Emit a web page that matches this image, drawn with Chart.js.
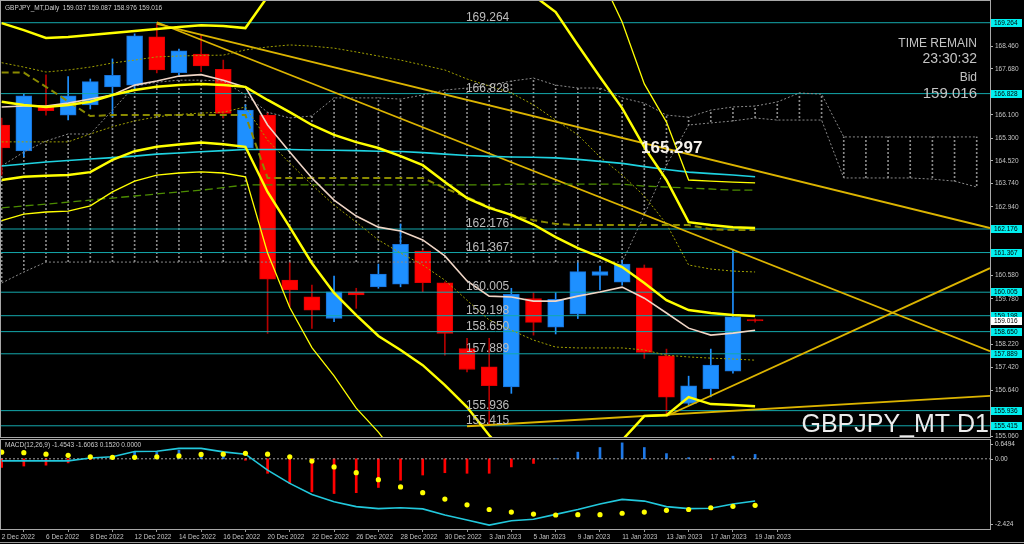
<!DOCTYPE html>
<html>
<head>
<meta charset="UTF-8">
<title>GBPJPY_MT Daily</title>
<script src="https://cdn.jsdelivr.net/npm/chart.js"></script>
<style>
  html, body { margin: 0; padding: 0; background: #000; }
  #wrap { position: relative; width: 1024px; height: 544px; overflow: hidden; background: #000; }
  canvas { position: absolute; left: 0; }
  #mainChart { top: 0; }
  #macdChart { top: 438px; }
</style>
</head>
<body>
<div id="wrap">
  <canvas id="mainChart" width="1024" height="438"></canvas>
  <canvas id="macdChart" width="1024" height="106"></canvas>
</div>
<script>
// ---- data ----
var dates = ['2 Dec 2022','5 Dec 2022','6 Dec 2022','7 Dec 2022','8 Dec 2022','9 Dec 2022',
  '12 Dec 2022','13 Dec 2022','14 Dec 2022','15 Dec 2022','16 Dec 2022','19 Dec 2022',
  '20 Dec 2022','21 Dec 2022','22 Dec 2022','23 Dec 2022','26 Dec 2022','27 Dec 2022',
  '28 Dec 2022','29 Dec 2022','30 Dec 2022','2 Jan 2023','3 Jan 2023','4 Jan 2023',
  '5 Jan 2023','6 Jan 2023','9 Jan 2023','10 Jan 2023','11 Jan 2023','12 Jan 2023',
  '13 Jan 2023','16 Jan 2023','17 Jan 2023','18 Jan 2023','19 Jan 2023'];

var opens  = [165.75,164.86,166.40,166.09,166.44,167.06,167.12,168.78,167.55,168.19,167.66,164.95,166.09,160.42,159.85,159.10,160.02,160.19,160.28,161.42,160.33,158.07,157.44,156.75,159.79,158.80,159.25,160.58,160.35,160.84,157.82,156.18,156.68,157.29,159.037];
var highs  = [165.99,166.81,167.47,167.41,167.33,168.02,168.88,169.24,168.36,168.84,167.98,166.44,166.16,161.03,160.25,160.56,160.14,160.97,162.35,161.45,160.36,158.42,158.42,160.14,159.99,159.99,161.04,160.90,161.11,160.94,158.05,157.12,158.05,161.48,159.087];
var lows   = [164.03,164.66,166.09,165.92,166.30,166.03,166.95,167.54,167.47,167.58,165.99,164.89,158.59,159.50,158.76,158.99,159.45,160.14,160.19,160.02,157.84,157.27,155.44,156.53,158.53,158.57,159.10,160.08,160.25,157.73,155.78,156.13,156.41,157.22,158.976];
var closes = [164.96,166.75,166.24,166.75,167.24,167.46,168.81,167.64,168.30,167.78,166.15,166.26,160.45,160.08,159.39,160.02,159.91,160.63,161.65,160.33,158.59,157.35,156.79,159.93,158.97,159.76,160.71,160.71,160.97,157.94,156.40,156.79,157.50,159.16,159.016];

var levels = [169.264, 166.828, 162.176, 161.367, 160.005, 159.198, 158.650, 157.889, 155.936, 155.415];
var bidPrice = 159.016;
var priceTicks = [168.460, 167.680, 166.100, 165.300, 164.520, 163.740, 162.940, 160.580, 159.780, 158.220, 157.420, 156.640, 155.060];

var bandUpper = [169.25,169.01,168.74,168.77,168.84,168.91,168.98,169.05,169.12,169.18,169.15,169.08,170.16,171.0,171.6,172.0,172.2,172.3,172.2,172.0,171.8,171.5,171.2,170.8,170.2,169.63,168.50,167.40,166.33,164.99,163.86,162.41,162.31,162.24,162.21];
var bandUpperThin = [null,null,null,null,null,null,null,null,null,null,null,null,null,null,null,null,null,null,null,null,null,null,null,null,null,null,172.2,170.9,169.29,167.16,165.85,163.86,163.82,163.79,163.76];
var bandMid = [166.55,166.44,166.37,166.44,166.55,166.78,166.95,167.06,167.12,167.16,167.12,167.06,166.61,166.19,165.75,165.41,165.16,164.96,164.68,164.37,163.79,163.24,162.90,162.66,162.33,161.90,161.52,161.21,160.87,160.32,159.73,159.39,159.29,159.22,159.19];
var bandLower = [163.86,163.97,164.01,164.03,164.13,164.55,164.85,165.00,165.08,165.15,165.09,165.00,163.45,162.24,161.00,159.98,159.22,158.50,158.02,157.50,156.81,156.06,155.09,154.24,153.89,153.89,154.07,154.41,154.92,155.75,155.78,156.40,156.16,156.13,156.09];
var bandLowerThin = [162.46,162.69,162.76,162.79,162.97,163.45,163.82,164.03,164.10,164.14,164.10,163.97,161.35,159.48,158.10,157.13,156.02,155.20,154.2,153.4,152.8,152.3,152.0,151.9,151.9,152.0,152.1,152.3,152.5,152.6,152.7,152.8,152.9,153.0,153.0];
var maCyan = [164.34,164.41,164.48,164.53,164.58,164.63,164.68,164.75,164.79,164.83,164.87,164.91,164.91,164.91,164.89,164.88,164.87,164.85,164.84,164.80,164.75,164.70,164.67,164.65,164.64,164.62,164.57,164.50,164.43,164.32,164.22,164.13,164.08,164.03,163.97];
var maFast = [166.37,166.40,166.40,166.50,166.64,166.78,167.12,167.26,167.43,167.48,167.29,167.05,165.75,164.82,163.93,163.17,162.62,162.24,162.11,161.80,161.25,160.39,159.87,159.84,159.70,159.70,159.87,160.01,160.18,159.80,159.29,158.77,158.53,158.60,158.70];
var kijun = [167.55,167.55,167.06,166.56,166.06,166.09,166.09,166.09,166.09,166.09,166.09,166.09,163.93,163.93,163.93,163.93,163.93,163.93,163.93,163.93,163.58,163.27,162.93,162.66,162.48,162.35,162.31,162.31,162.31,162.31,162.31,162.31,162.17,162.14,162.14];
var maGreen = [162.90,162.97,163.03,163.10,163.17,163.24,163.31,163.38,163.45,163.51,163.60,163.69,163.69,163.69,163.69,163.69,163.69,163.69,163.69,163.69,163.69,163.69,163.69,163.72,163.72,163.72,163.72,163.72,163.72,163.65,163.62,163.58,163.55,163.51,163.51];
var dotUpper = [167.89,167.74,167.57,167.64,167.74,167.88,167.98,168.09,168.12,168.14,168.15,168.33,168.43,168.50,168.46,168.39,168.26,168.12,167.98,167.81,167.64,167.33,167.09,166.85,166.44,165.92,165.41,164.65,164.03,163.31,162.35,160.94,160.80,160.73,160.70];
var dotLower = [165.17,165.17,165.17,165.17,165.44,165.69,165.89,166.03,166.11,166.16,166.19,166.37,165.23,164.44,163.69,163.00,162.41,161.80,161.35,160.94,160.42,159.73,159.05,158.70,158.36,158.12,158.09,158.09,158.09,158.02,157.84,157.78,157.74,157.71,157.67];
var cloudA = [164.34,164.82,165.20,165.44,165.44,166.26,167.09,167.22,167.29,167.29,167.26,166.78,166.19,165.99,166.06,166.68,166.68,166.68,166.64,166.78,166.95,167.02,167.12,167.26,167.36,167.12,167.02,167.02,166.68,166.50,166.09,166.02,166.26,166.37,166.40,166.54,166.85,166.81,165.34,165.34,165.34,165.34,165.34,165.34,165.34];
var cloudB = [160.32,160.70,161.04,161.04,161.04,161.04,161.04,161.04,161.04,161.04,161.04,161.04,161.04,161.04,161.04,161.04,161.04,161.04,161.04,161.04,161.04,161.04,161.04,161.04,161.04,161.04,161.04,161.04,161.04,162.66,164.37,165.75,165.82,165.89,165.99,165.92,165.92,165.92,163.93,163.93,163.93,163.93,163.89,163.82,163.62];

var trendA = [{x: 7, y: 169.22}, {x: 44.6, y: 162.21}];
var trendB = [{x: 7, y: 169.28}, {x: 44.6, y: 157.98}];
var trendC = [{x: 30, y: 155.75}, {x: 44.6, y: 160.83}];
var trendD = [{x: 21, y: 155.40}, {x: 44.6, y: 156.44}];

var macdMain   = [-0.07,-0.07,-0.07,-0.07,0.03,0.07,0.25,0.26,0.36,0.36,0.24,0.16,-0.39,-0.85,-1.23,-1.48,-1.65,-1.72,-1.69,-1.73,-1.94,-2.11,-2.29,-2.14,-2.09,-1.92,-1.75,-1.56,-1.40,-1.46,-1.65,-1.72,-1.71,-1.56,-1.4543];
var macdSignal = [0.23,0.21,0.16,0.12,0.07,0.05,0.05,0.07,0.10,0.15,0.16,0.19,0.16,0.07,-0.08,-0.28,-0.48,-0.72,-0.97,-1.17,-1.39,-1.59,-1.75,-1.84,-1.91,-1.94,-1.93,-1.93,-1.88,-1.84,-1.78,-1.75,-1.69,-1.64,-1.6063];
var macdHist   = [-0.30,-0.25,-0.22,-0.14,-0.03,0.02,0.23,0.22,0.30,0.20,0.10,-0.05,-0.50,-0.85,-1.14,-1.20,-1.17,-0.99,-0.74,-0.56,-0.48,-0.50,-0.50,-0.28,-0.16,0.00,0.23,0.39,0.55,0.39,0.18,0.04,-0.02,0.09,0.1520];
var macdMax = 0.6494, macdMin = -2.424;

var X_MIN = -0.03, X_MAX = 44.6;
var FONT = '"Liberation Sans", Arial, sans-serif';
Chart.defaults.font.family = FONT;

function toPoints(arr) {
  return arr.map(function (v, i) { return {x: i, y: v}; });
}

function lineSet(points, color, width, dash, order) {
  return {
    type: 'line', data: points, borderColor: color, borderWidth: width,
    borderDash: dash || [], pointRadius: 0, fill: false, tension: 0, order: order || 1
  };
}

function dotPattern(color) {
  var c = document.createElement('canvas');
  c.width = 1; c.height = 4;
  var g = c.getContext('2d');
  g.fillStyle = color;
  g.fillRect(0, 0, 1, 2);
  return g.createPattern(c, 'repeat');
}

// keep axis label overflow from shrinking the plot area
function noPad(s) {
  s.paddingTop = 0; s.paddingBottom = 0; s.paddingLeft = 0; s.paddingRight = 0;
}

var upColor = '#1e90ff', downColor = '#ff0000';
var bodyColors = closes.map(function (c, i) { return c >= opens[i] ? upColor : downColor; });
var bodyBorders = closes.map(function (c, i) { return c >= opens[i] ? '#1872d8' : '#e00000'; });
var wickColors = closes.map(function (c, i) { return c >= opens[i] ? upColor : '#b40000'; });

function borderBox(chart) {
  var a = chart.chartArea, ctx = chart.ctx;
  ctx.save();
  ctx.strokeStyle = '#a8a8a8';
  ctx.lineWidth = 1;
  ctx.strokeRect(a.left - 0.5, a.top - 0.5, a.right - a.left + 1, a.bottom - a.top + 1);
  ctx.restore();
}

// ---- main price chart ----
var mainOverlay = {
  id: 'mainOverlay',
  afterDatasetsDraw: function (chart) {
    var ctx = chart.ctx, xs = chart.scales.x, ys = chart.scales.y;
    ctx.save();
    ctx.textAlign = 'left';
    ctx.textBaseline = 'alphabetic';
    ctx.font = '12px ' + FONT;
    ctx.fillStyle = '#bcbcbc';
    var lx = xs.getPixelForValue(20.95);
    levels.forEach(function (v) {
      ctx.fillText(v.toFixed(3), lx, ys.getPixelForValue(v) - 2);
    });

    ctx.font = 'bold 17px ' + FONT;
    ctx.fillStyle = '#f4f0ea';
    ctx.fillText('165.297', xs.getPixelForValue(28.85), ys.getPixelForValue(165.297) + 15);

    ctx.textAlign = 'right';
    ctx.fillStyle = '#c4c4c4';
    ctx.font = '12px ' + FONT;
    ctx.fillText('TIME REMAIN', 977, 47);
    ctx.font = '14px ' + FONT;
    ctx.fillText('23:30:32', 977, 63);
    ctx.font = '12px ' + FONT;
    ctx.fillText('Bid', 977, 81);
    ctx.font = '15px ' + FONT;
    ctx.fillText('159.016', 977, 98);

    ctx.fillStyle = '#ececec';
    ctx.font = '25px ' + FONT;
    ctx.fillText('GBPJPY_MT D1', 989, 432);

    ctx.textAlign = 'left';
    ctx.fillStyle = '#cfcfcf';
    ctx.font = '6.5px ' + FONT;
    ctx.fillText('GBPJPY_MT,Daily  159.037 159.087 158.976 159.016', 5, 10);
    ctx.restore();
  },
  afterDraw: function (chart) {
    var ctx = chart.ctx, ys = chart.scales.y, a = chart.chartArea;
    borderBox(chart);
    ctx.save();
    ctx.font = '6.5px ' + FONT;
    ctx.textAlign = 'left';
    ctx.textBaseline = 'middle';
    function box(v, bg) {
      var y = Math.round(ys.getPixelForValue(v));
      ctx.fillStyle = bg;
      ctx.fillRect(a.right + 1, y - 4, 31, 8);
      ctx.fillStyle = '#000';
      ctx.fillText(v.toFixed(3), a.right + 4, y + 0.5);
    }
    levels.forEach(function (v) { box(v, '#00f0f0'); });
    box(bidPrice, '#ffffff');
    ctx.restore();
  }
};

var mainDatasets = [
  lineSet(toPoints(bandUpper), '#ffff00', 2.5),
  lineSet(toPoints(bandUpperThin), '#ffff00', 1.3),
  lineSet(toPoints(bandMid), '#ffff00', 2.5),
  lineSet(toPoints(bandLower), '#ffff00', 2.5),
  lineSet(toPoints(bandLowerThin), '#ffff00', 1.3),
  lineSet(toPoints(maCyan), '#1ed2e0', 1.6),
  lineSet(toPoints(maFast), '#f0d6c6', 1.6),
  lineSet(toPoints(kijun), '#8a8a00', 2, [7, 4]),
  lineSet(toPoints(maGreen), '#4c8c00', 1.3, [8, 4]),
  lineSet(toPoints(dotUpper), '#a0a000', 1, [2, 2]),
  lineSet(toPoints(dotLower), '#a0a000', 1, [2, 2]),
  lineSet(trendA, '#dcb400', 1.8),
  lineSet(trendB, '#dcb400', 1.8),
  lineSet(trendC, '#dcb400', 1.8),
  lineSet(trendD, '#dcb400', 1.8),
  lineSet(toPoints(cloudA), '#8a8a8a', 1, [2, 2], 4),
  lineSet(toPoints(cloudB), '#8a8a8a', 1, [2, 2], 4)
];

levels.forEach(function (v) {
  mainDatasets.push(lineSet([{x: X_MIN, y: v}, {x: X_MAX, y: v}], '#14a8ac', 1, [], 5));
});

mainDatasets.push({
  type: 'bar', order: 6, grouped: false, barThickness: 16, minBarLength: 1.5,
  data: opens.map(function (o, i) { return {x: i, y: [o, closes[i]]}; }),
  backgroundColor: bodyColors, borderColor: bodyBorders, borderWidth: 1, borderSkipped: false
});
mainDatasets.push({
  type: 'bar', order: 7, grouped: false, barThickness: 1,
  data: lows.map(function (l, i) { return {x: i, y: [l, highs[i]]}; }),
  backgroundColor: wickColors, borderWidth: 0
});
mainDatasets.push({
  type: 'bar', order: 8, grouped: false, barThickness: 1,
  data: cloudA.map(function (v, i) { return {x: i, y: [cloudB[i], v]}; }),
  backgroundColor: dotPattern('#8a8a8a'), borderWidth: 0
});

new Chart(document.getElementById('mainChart'), {
  type: 'bar',
  data: {datasets: mainDatasets},
  options: {
    responsive: false, animation: false, devicePixelRatio: 1, events: [],
    layout: {autoPadding: false, padding: {left: 1, right: 0, top: 1, bottom: 1}},
    plugins: {legend: {display: false}, tooltip: {enabled: false}},
    scales: {
      x: {type: 'linear', min: X_MIN, max: X_MAX, display: false, offset: false},
      y: {
        position: 'right', min: 155.03, max: 170.01,
        afterFit: function (s) { s.width = 34; noPad(s); },
        afterBuildTicks: function (s) { s.ticks = priceTicks.map(function (v) { return {value: v}; }); },
        ticks: {
          color: '#c4c4c4', font: {size: 6.5}, padding: 2, autoSkip: false,
          callback: function (v) { return Number(v).toFixed(3); }
        },
        grid: {display: true, drawOnChartArea: false, tickLength: 3, color: '#b0b0b0'},
        border: {display: true, color: '#b0b0b0'}
      }
    }
  },
  plugins: [mainOverlay]
});

// ---- MACD panel ----
var macdOverlay = {
  id: 'macdOverlay',
  afterDraw: function (chart) {
    var ctx = chart.ctx, a = chart.chartArea, ys = chart.scales.y;
    borderBox(chart);
    ctx.save();
    ctx.fillStyle = '#cfcfcf';
    ctx.font = '6.5px ' + FONT;
    ctx.textAlign = 'left';
    ctx.textBaseline = 'middle';
    ctx.fillText('MACD(12,26,9) -1.4543 -1.6063 0.1520 0.0000', 5, a.top + 5);
    var marks = [[macdMax, a.top + 4, '0.6494'], [0, ys.getPixelForValue(0), '0.00'], [macdMin, a.bottom - 5, '-2.424']];
    ctx.strokeStyle = '#b0b0b0';
    marks.forEach(function (m) {
      ctx.beginPath();
      ctx.moveTo(a.right, Math.round(m[1]) + 0.5);
      ctx.lineTo(a.right + 3, Math.round(m[1]) + 0.5);
      ctx.stroke();
      ctx.fillText(m[2], a.right + 5, m[1]);
    });
    ctx.strokeStyle = '#9a9a9a';
    ctx.beginPath();
    ctx.moveTo(0, 104.5);
    ctx.lineTo(1024, 104.5);
    ctx.stroke();
    ctx.restore();
  }
};

new Chart(document.getElementById('macdChart'), {
  type: 'bar',
  data: {
    datasets: [
      {
        type: 'line', order: 0, data: toPoints(macdSignal), showLine: false,
        pointRadius: 2.6, pointBackgroundColor: '#ffff00', pointBorderWidth: 0
      },
      lineSet(toPoints(macdMain), '#22c8dc', 1.6, [], 1),
      lineSet([{x: X_MIN, y: 0}, {x: X_MAX, y: 0}], '#a0a0a0', 1, [2, 2], 2),
      {
        type: 'bar', order: 3, grouped: false, barThickness: 2,
        data: toPoints(macdHist),
        backgroundColor: macdHist.map(function (v) { return v >= 0 ? '#1e78e6' : '#ff0000'; }),
        borderWidth: 0
      }
    ]
  },
  options: {
    responsive: false, animation: false, devicePixelRatio: 1, events: [],
    layout: {autoPadding: false, padding: {left: 1, right: 0, top: 2, bottom: 0}},
    plugins: {legend: {display: false}, tooltip: {enabled: false}},
    scales: {
      x: {
        type: 'linear', min: X_MIN, max: X_MAX, offset: false, position: 'bottom',
        afterFit: function (s) { s.height = 15; noPad(s); },
        afterBuildTicks: function (s) {
          var t = [];
          dates.forEach(function (d, i) { if (i % 2 === 0) t.push({value: i}); });
          s.ticks = t;
        },
        ticks: {
          color: '#c4c4c4', font: {size: 6.5}, padding: 1, align: 'start',
          autoSkip: false, maxRotation: 0, minRotation: 0,
          callback: function (v) { return dates[v] || ''; }
        },
        grid: {display: true, drawOnChartArea: false, tickLength: 3, color: '#9a9a9a'},
        border: {display: true, color: '#b0b0b0'}
      },
      y: {
        position: 'right', min: macdMin, max: macdMax,
        afterFit: function (s) { s.width = 34; noPad(s); },
        ticks: {display: false},
        grid: {display: false},
        border: {display: true, color: '#b0b0b0'}
      }
    }
  },
  plugins: [macdOverlay]
});
</script>
</body>
</html>
